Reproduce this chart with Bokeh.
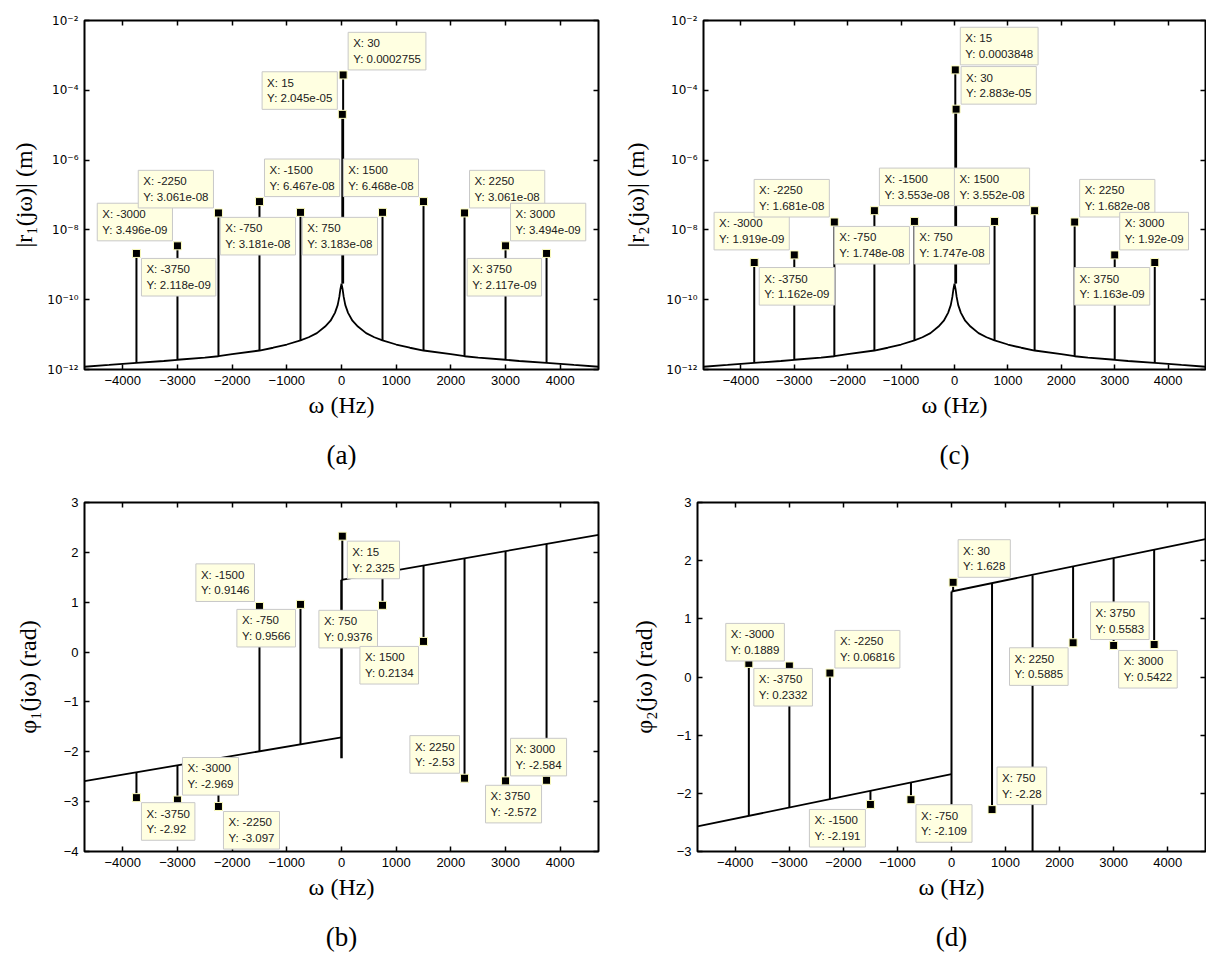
from bokeh.plotting import figure
from bokeh.layouts import column, row
from bokeh.models import (Label, FixedTicker, LinearAxis, LogAxis,
                          CustomJSTickFormatter)
from bokeh.embed import file_html
from bokeh.resources import INLINE

# ---------------- data ----------------
x_ticks = [-4000, -3000, -2000, -1000, 0, 1000, 2000, 3000, 4000]
mag_ticks = [1e-12, 1e-10, 1e-8, 1e-6, 1e-4, 1e-2]
phase1_ticks = [-4, -3, -2, -1, 0, 1, 2, 3]
phase2_ticks = [-3, -2, -1, 0, 1, 2, 3]

# continuous part of the magnitude spectrum
mag_curve_x = [-4700, -4250, -3750, -3250, -3000, -2500, -2250, -2000, -1500, -1250,
               -1000, -750, -600, -450, -300, -200, -120, -70, -40, -20, 0,
               20, 40, 70, 120, 200, 300, 450, 600, 750, 1000, 1250, 1500, 2000,
               2250, 2500, 3000, 3250, 3750, 4250, 4700]
mag_curve_y = [1.2e-12, 1.35e-12, 1.55e-12, 1.75e-12, 1.9e-12, 2.2e-12, 2.4e-12, 2.75e-12,
               3.5e-12, 4.2e-12, 5.2e-12, 6.8e-12, 8.4e-12, 1.1e-11, 1.7e-11, 2.5e-11,
               4.2e-11, 7e-11, 1.2e-10, 2.0e-10, 2.9e-10,
               2.0e-10, 1.2e-10, 7e-11, 4.2e-11, 2.5e-11, 1.7e-11, 1.1e-11, 8.4e-12,
               6.8e-12, 5.2e-12, 4.2e-12, 3.5e-12, 2.75e-12, 2.4e-12, 2.2e-12, 1.9e-12,
               1.75e-12, 1.55e-12, 1.35e-12, 1.2e-12]

# (a) |r1|
a_x = [-3750, -3000, -2250, -1500, -750, 15, 30, 750, 1500, 2250, 3000, 3750]
a_y = [2.118e-09, 3.496e-09, 3.061e-08, 6.467e-08, 3.181e-08, 2.045e-05, 2.755e-04,
       3.183e-08, 6.468e-08, 3.061e-08, 3.494e-09, 2.117e-09]
a_base = [1.55e-12, 1.9e-12, 2.4e-12, 3.5e-12, 6.8e-12, 2.9e-10, 2.9e-10,
          6.8e-12, 3.5e-12, 2.4e-12, 1.9e-12, 1.55e-12]
a_side = ["lr", "ul", "ul", "ur", "ll", "ul", "ur", "ll", "ul", "ur", "ur", "ll"]

# (c) |r2|
c_x = [-3750, -3000, -2250, -1500, -750, 15, 30, 750, 1500, 2250, 3000, 3750]
c_y = [1.162e-09, 1.919e-09, 1.681e-08, 3.553e-08, 1.748e-08, 3.848e-04, 2.883e-05,
       1.747e-08, 3.552e-08, 1.682e-08, 1.92e-09, 1.163e-09]
c_base = [1.55e-12, 1.9e-12, 2.4e-12, 3.5e-12, 6.8e-12, 2.9e-10, 2.9e-10,
          6.8e-12, 3.5e-12, 2.4e-12, 1.9e-12, 1.55e-12]
c_side = ["lr", "ul", "ul", "ur", "ll", "ur", "ur", "ll", "ul", "ur", "ur", "ll"]

# (b) phi1
b_line_left_x = [-4700, 0]
b_line_left_y = [-2.59, -1.71]
b_line_right_x = [0, 4700]
b_line_right_y = [1.45, 2.35]
b_x = [-3750, -3000, -2250, -1500, -750, 15, 750, 1500, 2250, 3000, 3750]
b_y = [-2.92, -2.969, -3.097, 0.9146, 0.9566, 2.325, 0.9376, 0.2134, -2.53, -2.584, -2.572]
b_base = [-2.41, -2.27, -2.13, -1.99, -1.85, 1.45, 1.59, 1.74, 1.88, 2.02, 2.17]
b_side = ["lr", "ur", "lr", "ul", "ll", "lr", "ll", "ll", "ul", "ur", "ll"]
b_extra_x = [0]
b_extra_y0 = [-2.13]
b_extra_y1 = [1.45]

# (d) phi2
d_line_left_x = [-4700, 0]
d_line_left_y = [-2.57, -1.67]
d_line_right_x = [0, 4700]
d_line_right_y = [1.47, 2.37]
d_x = [-3750, -3000, -2250, -1500, -750, 30, 750, 2250, 3000, 3750]
d_y = [0.2332, 0.1889, 0.06816, -2.191, -2.109, 1.628, -2.28, 0.5885, 0.5422, 0.5583]
d_base = [-2.39, -2.25, -2.10, -1.96, -1.82, 1.47, 1.61, 1.90, 2.04, 2.19]
d_side = ["lr", "ul", "ur", "ll", "lr", "ur", "ur", "ll", "lr", "ul"]
d_extra_x = [0, 1500]
d_extra_y0 = [-2.85, 1.75]
d_extra_y1 = [1.47, -3.3]

captions = ["(a)", "(c)", "(b)", "(d)"]

# ---------------- styling helpers ----------------
SANS = "Liberation Sans"
SERIF = "Liberation Serif"

SUP_JS = """
const sup = {'-':'\u207b','0':'\u2070','1':'\u00b9','2':'\u00b2','3':'\u00b3','4':'\u2074',
             '5':'\u2075','6':'\u2076','7':'\u2077','8':'\u2078','9':'\u2079'};
const e = Math.round(Math.log10(tick));
return '10' + String(e).split('').map(c => sup[c]).join('');
"""
EMPTY_JS = "return '';"


def make_fig(width, height, left, right, top, bottom, yrange, log):
    kw = dict(width=width, height=height, min_border_left=left, min_border_right=right,
              min_border_top=top, min_border_bottom=bottom,
              x_range=(-4700, 4700), y_range=yrange,
              output_backend="svg", toolbar_location=None,
              background_fill_color="white", border_fill_color="white")
    if log:
        kw["y_axis_type"] = "log"
    p = figure(**kw)
    p.xgrid.visible = False
    p.ygrid.visible = False
    p.outline_line_color = "black"
    p.outline_line_width = 2
    return p


def style_axes(p, yticks, log, ylabel, ylabel_standoff, caption):
    p.xaxis.ticker = FixedTicker(ticks=x_ticks)
    p.yaxis.ticker = FixedTicker(ticks=yticks)
    for ax in p.xaxis + p.yaxis:
        ax.major_tick_in = 5
        ax.major_tick_out = 0
        ax.minor_tick_in = 0
        ax.minor_tick_out = 0
        ax.major_tick_line_width = 1.5
        ax.axis_line_color = None
        ax.major_label_text_font = SANS
        ax.major_label_text_font_size = "13px"
        ax.major_label_text_color = "black"
        ax.major_label_standoff = 6
        ax.axis_label_text_font = SERIF
        ax.axis_label_text_font_size = "24px"
        ax.axis_label_text_font_style = "normal"
        ax.axis_label_text_color = "black"
    if log:
        p.yaxis.formatter = CustomJSTickFormatter(code=SUP_JS)
        p.yaxis.major_label_text_font = "DejaVu Sans"
        p.yaxis.major_label_text_font_size = "12px"
    p.xaxis.axis_label = "\u03c9 (Hz)"
    p.xaxis.axis_label_standoff = 4
    p.yaxis.axis_label = ylabel
    p.yaxis.axis_label_standoff = ylabel_standoff

    top = LinearAxis(ticker=FixedTicker(ticks=x_ticks),
                     formatter=CustomJSTickFormatter(code=EMPTY_JS))
    Ax = LogAxis if log else LinearAxis
    rgt = Ax(ticker=FixedTicker(ticks=yticks),
             formatter=CustomJSTickFormatter(code=EMPTY_JS))
    for ax in (top, rgt):
        ax.major_tick_in = 5
        ax.major_tick_out = 0
        ax.minor_tick_in = 0
        ax.minor_tick_out = 0
        ax.major_tick_line_width = 1.5
        ax.axis_line_color = None
        ax.major_label_standoff = 0
        ax.major_label_text_font_size = "1px"
    p.add_layout(top, "above")
    p.add_layout(rgt, "right")

    # panel caption "(a)" etc. as the label of a tick-less axis stacked below
    cap = LinearAxis(ticker=FixedTicker(ticks=[]), axis_label=caption,
                     axis_label_text_font=SERIF, axis_label_text_font_size="27px",
                     axis_label_text_font_style="normal", axis_label_text_color="black",
                     axis_label_standoff=19, axis_line_color=None,
                     major_tick_in=0, major_tick_out=0, minor_tick_in=0,
                     minor_tick_out=0, major_label_standoff=0)
    p.add_layout(cap, "below")


def add_stems(p, xs, y0, y1, width=2.0):
    p.segment(x0=xs, y0=y0, x1=xs, y1=y1, line_color="black", line_width=width)


def add_markers(p, xs, ys):
    p.scatter(xs, ys, marker="square", size=8, fill_color="black",
              line_color="#FFFFC0", line_width=1)


ANCH = {"ur": "bottom_left", "ul": "bottom_right", "lr": "top_left", "ll": "top_right"}


def add_tips(p, xs, ys, sides):
    for x, y, s in zip(xs, ys, sides):
        dx = 5 if s[1] == "r" else -5
        dy = 5 if s[0] == "u" else -5
        p.add_layout(Label(x=x, y=y, x_offset=dx, y_offset=dy,
                           text=f"X: {x}\nY: {y:.4g}", anchor=ANCH[s],
                           text_align="left", text_font=SANS, text_font_size="11.5px",
                           text_color="#202020", text_line_height=1.3,
                           padding=5, background_fill_color="#FFFFE1",
                           border_line_color="#C8C8C8", border_line_width=1))


# ---------------- (a) ----------------
pa = make_fig(620, 485, 84, 22, 17, 115, (1e-12, 1e-2), True)
pa.line(mag_curve_x, mag_curve_y, line_color="black", line_width=1.8)
add_stems(pa, a_x, a_base, a_y)
add_markers(pa, a_x, a_y)
add_tips(pa, a_x, a_y, a_side)
style_axes(pa, mag_ticks, True, "|r\u2081(j\u03c9)| (m)", 7, captions[0])

# ---------------- (c) ----------------
pc = make_fig(586, 485, 77, 1, 20, 116, (1e-12, 1e-2), True)
pc.line(mag_curve_x, mag_curve_y, line_color="black", line_width=1.8)
add_stems(pc, c_x, c_base, c_y)
add_markers(pc, c_x, c_y)
add_tips(pc, c_x, c_y, c_side)
style_axes(pc, mag_ticks, True, "|r\u2082(j\u03c9)| (m)", 14, captions[1])

# ---------------- (b) ----------------
pb = make_fig(620, 473, 84, 22, 17, 105, (-4, 3), False)
pb.line(b_line_left_x, b_line_left_y, line_color="black", line_width=1.8)
pb.line(b_line_right_x, b_line_right_y, line_color="black", line_width=1.8)
add_stems(pb, b_extra_x, b_extra_y0, b_extra_y1, 2.5)
add_stems(pb, b_x, b_base, b_y)
add_markers(pb, b_x, b_y)
add_tips(pb, b_x, b_y, b_side)
style_axes(pb, phase1_ticks, False, "\u03c6\u2081(j\u03c9) (rad)", 20, captions[2])

# ---------------- (d) ----------------
pd_ = make_fig(586, 473, 77, 1, 17, 107, (-3, 3), False)
pd_.line(d_line_left_x, d_line_left_y, line_color="black", line_width=1.8)
pd_.line(d_line_right_x, d_line_right_y, line_color="black", line_width=1.8)
add_stems(pd_, d_extra_x, d_extra_y0, d_extra_y1)
add_stems(pd_, d_x, d_base, d_y)
add_markers(pd_, d_x, d_y)
add_tips(pd_, d_x, d_y, d_side)
style_axes(pd_, phase2_ticks, False, "\u03c6\u2082(j\u03c9) (rad)", 17, captions[3])

layout = column(row(pa, pc), row(pb, pd_))
open("out.html", "w").write(file_html(layout, INLINE))
